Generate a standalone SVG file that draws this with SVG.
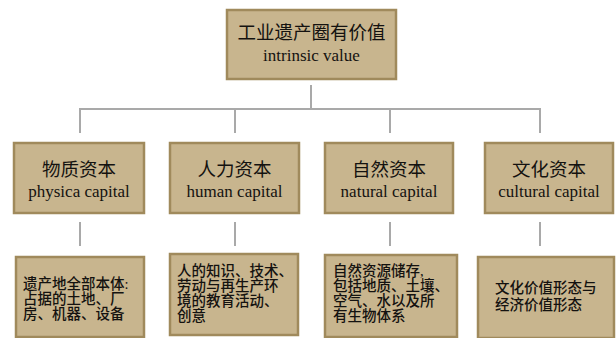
<svg xmlns="http://www.w3.org/2000/svg" width="616" height="338" viewBox="0 0 616 338">
<defs>
<style>
.box{fill:#c8b58e;stroke:#a08a5c;stroke-width:2.5}
.zh{font-family:"Liberation Serif","Noto Sans CJK SC",serif;fill:#141210}
.en{font-family:"Liberation Serif",serif;fill:#141210}
.t1{font-size:18.5px}
.t2{font-size:17px}
.t3{font-size:14.5px;font-weight:500}
.con{stroke:#a9a9a9;stroke-width:2;fill:none}
</style>
</defs>
<rect width="616" height="338" fill="#ffffff"/>
<g id="connectors">
<path class="con" d="M311,85 V109 M80,109 H540 M80,108 V133 M235,108 V133 M390,108 V133 M540,108 V133"/>
<path class="con" d="M80,222 V246 M235,222 V246 M390,222 V246 M540,222 V246"/>
</g>
<g id="top">
<rect class="box" x="227" y="10" width="169" height="69"/>
<text class="zh t1" x="311.5" y="39" text-anchor="middle">工业遗产圈有价值</text>
<text class="en t2" x="311.5" y="61" text-anchor="middle">intrinsic value</text>
</g>
<g id="physical">
<rect class="box" x="14" y="143" width="130" height="70"/>
<text class="zh t1" x="79" y="176" text-anchor="middle">物质资本</text>
<text class="en t2" x="79" y="197" text-anchor="middle">physica capital</text>
</g>
<g id="human">
<rect class="box" x="170" y="143" width="129" height="70"/>
<text class="zh t1" x="234.5" y="176" text-anchor="middle">人力资本</text>
<text class="en t2" x="234.5" y="197" text-anchor="middle">human capital</text>
</g>
<g id="natural">
<rect class="box" x="325" y="143" width="128" height="70"/>
<text class="zh t1" x="389" y="176" text-anchor="middle">自然资本</text>
<text class="en t2" x="389" y="197" text-anchor="middle">natural capital</text>
</g>
<g id="cultural">
<rect class="box" x="485" y="143" width="128" height="70"/>
<text class="zh t1" x="549" y="176" text-anchor="middle">文化资本</text>
<text class="en t2" x="549" y="197" text-anchor="middle">cultural capital</text>
</g>
<g id="physical-desc">
<rect class="box" x="16" y="257" width="128" height="80"/>
<text class="zh t3" x="23" y="289">遗产地全部本体:</text>
<text class="zh t3" x="23" y="304">占据的土地、厂</text>
<text class="zh t3" x="23" y="319">房、机器、设备</text>
</g>
<g id="human-desc">
<rect class="box" x="170" y="254" width="128" height="81"/>
<text class="zh t3" x="177" y="276">人的知识、技术、</text>
<text class="zh t3" x="177" y="291">劳动与再生产环</text>
<text class="zh t3" x="177" y="306">境的教育活动、</text>
<text class="zh t3" x="177" y="321">创意</text>
</g>
<g id="natural-desc">
<rect class="box" x="325" y="255" width="132" height="82"/>
<text class="zh t3" x="333" y="276">自然资源储存,</text>
<text class="zh t3" x="333" y="291">包括地质、土壤、</text>
<text class="zh t3" x="333" y="306">空气、水以及所</text>
<text class="zh t3" x="333" y="321">有生物体系</text>
</g>
<g id="cultural-desc">
<rect class="box" x="478" y="257" width="136" height="81"/>
<text class="zh t3" x="495" y="293">文化价值形态与</text>
<text class="zh t3" x="495" y="310">经济价值形态</text>
</g>
</svg>
